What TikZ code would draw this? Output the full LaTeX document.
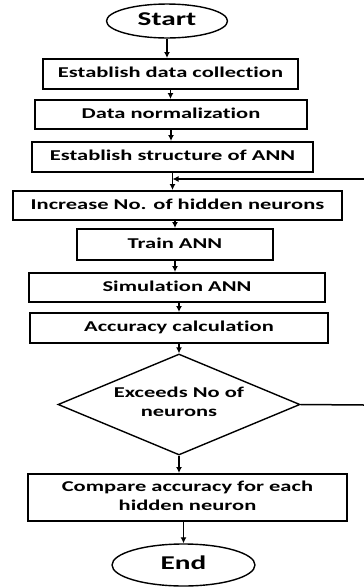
\documentclass[tikz,border=0pt]{standalone}
\usepackage{fontspec}
\setmainfont{Carlito}[Ligatures=NoCommon]
\usetikzlibrary{shapes.geometric,arrows.meta}
\newcommand\sxt[1]{\scalebox{1.5}[1]{\begin{tabular}{@{}c@{}}#1\end{tabular}}}
\begin{document}
\begin{tikzpicture}[x=1pt,y=-1pt,
  every node/.style={font=\bfseries\fontsize{15}{18.5}\selectfont, inner sep=0pt},
  stepbox/.style={draw, line width=2pt, minimum width=#1, minimum height=30pt},
  term/.style={draw, ellipse, line width=1.4pt, font=\bfseries\fontsize{19.5}{24}\selectfont},
  arr/.style={line width=1.5pt, -{Latex[length=6pt,width=6pt]}},
  ln/.style={line width=1.5pt}]
\useasboundingbox (0,0) rectangle (364,587);
\node[term, minimum width=121pt, minimum height=32pt] (start) at (167,21) {\sxt{Start}};
\node[stepbox=255pt] (b1) at (170.5,74) {\sxt{Establish data collection}};
\node[stepbox=272pt, minimum height=29pt] (b2) at (171,114.5) {\sxt{Data normalization}};
\node[stepbox=281pt] (b3) at (172.5,157) {\sxt{Establish structure of ANN}};
\node[stepbox=329pt, minimum height=29pt] (b4) at (177.5,205.5) {\sxt{Increase No. of hidden neurons}};
\node[stepbox=196pt, minimum height=31pt] (b5) at (175,244.5) {\sxt{Train ANN}};
\node[stepbox=296pt, minimum height=29pt] (b6) at (177,287.5) {\sxt{Simulation ANN}};
\node[stepbox=298pt] (b7) at (179,328) {\sxt{Accuracy calculation}};
\node[draw, diamond, line width=1.4pt, minimum width=242pt, minimum height=101pt] (d) at (179,404.5) {};
\node (dt) at ([yshift=1pt]d.center) {\sxt{Exceeds No of\\neurons}};
\node[stepbox=319pt, minimum height=47pt] (b8) at (187.5,497.5) {\sxt{Compare accuracy for each\\hidden neuron}};
\node[term, minimum width=143pt, minimum height=42pt] (end) at (183.5,565) {\sxt{End}};
\draw[arr] (start.south) -- (start.south |- b1.north);
\draw[arr] (b1.south) -- (b1.south |- b2.north);
\draw[arr] (b2.south) -- (b2.south |- b3.north);
\draw[arr] (b3.south) -- (b3.south |- b4.north);
\draw[arr] (b4.south -| b5.north) -- (b5.north);
\draw[arr] (b5.south) -- (b5.south |- b6.north);
\draw[arr] (b6.south -| b7.north) -- (b7.north);
\draw[arr] (b7.south -| d.north) -- (d.north);
\draw[arr] (d.south) -- (d.south |- b8.north);
\draw[arr] (b8.south -| end.north) -- (end.north);
\coordinate (fbR) at (364,405);
\coordinate (fbT) at (364,179);
\coordinate (j) at (b3.south |- fbT);
\draw[ln] (d.east) -- (fbR);
\draw[arr] (fbT) -- (j);
\end{tikzpicture}
\end{document}
